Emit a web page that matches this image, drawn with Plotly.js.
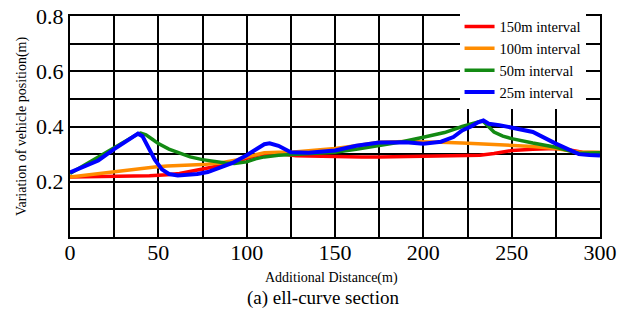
<!DOCTYPE html>
<html>
<head>
<meta charset="utf-8">
<script src="https://cdn.plot.ly/plotly-3.0.1.min.js"></script>
<style>
html,body{margin:0;padding:0;background:#fff;}
#chart{width:628px;height:325px;}
#chart text{font-family:'Liberation Serif','Times New Roman',serif !important;}
</style>
</head>
<body>
<div id="chart"></div>
<script>
// Series names
const seriesNames = ["150m interval", "100m interval", "50m interval", "25m interval"];

// 150m interval (red)
const dist150 = [0,15,30,45,55,62,70,78,86,95,100,106,112,120,128,140,150,165,175,190,200,212,225,232,240,250,262,275,283,290,300];
const val150  = [0.217,0.218,0.22,0.222,0.225,0.23,0.24,0.25,0.26,0.275,0.285,0.296,0.302,0.300,0.294,0.292,0.29,0.29,0.29,0.291,0.292,0.293,0.294,0.296,0.302,0.313,0.318,0.32,0.315,0.307,0.305];

// 100m interval (orange)
const dist100 = [0,10,20,30,40,48,55,65,75,85,95,100,105,110,118,125,135,150,162,175,190,200,210,222,235,250,262,275,288,300];
const val100  = [0.217,0.225,0.233,0.24,0.247,0.253,0.257,0.259,0.262,0.268,0.28,0.29,0.298,0.305,0.307,0.307,0.312,0.32,0.33,0.343,0.346,0.346,0.343,0.34,0.336,0.332,0.328,0.32,0.307,0.307];

// 50m interval (green)
const dist50 = [0,8,16,25,32,38,40,43,47,50,56,62,68,75,82,88,93,100,105,110,118,125,135,150,162,175,188,200,212,222,228,232,234,237,240,245,250,262,275,288,300];
const val50  = [0.23,0.26,0.29,0.325,0.35,0.372,0.376,0.37,0.352,0.338,0.318,0.303,0.29,0.28,0.273,0.268,0.266,0.272,0.283,0.29,0.296,0.298,0.3,0.307,0.318,0.331,0.345,0.361,0.378,0.40,0.41,0.418,0.418,0.40,0.38,0.365,0.356,0.34,0.325,0.303,0.305];

// 25m interval (blue)
const dist25 = [0,8,16,25,30,35,38.5,41,44,48,52,56,61,66,72,78,85,92,100,105,110,113,118,125,135,150,162,175,190,200,210,217,222,227,231,234,237,243,250,262,275,283,288,294,300];
const val25  = [0.234,0.255,0.277,0.318,0.338,0.358,0.374,0.365,0.325,0.28,0.245,0.228,0.223,0.224,0.228,0.235,0.25,0.268,0.296,0.318,0.336,0.339,0.330,0.307,0.305,0.313,0.330,0.342,0.343,0.338,0.345,0.362,0.386,0.400,0.415,0.422,0.41,0.405,0.397,0.38,0.338,0.315,0.300,0.297,0.295];

// Tick labels
const xTickVals = [0,25,50,75,100,125,150,175,200,225,250,275,300];
const xTickText = ["0","","50","","100","","150","","200","","250","","300"];
const yTickVals = [0,0.1,0.2,0.3,0.4,0.5,0.6,0.7,0.8];
const yTickText = ["","","0.2","","0.4","","0.6","","0.8"];

const colors = ["#ff0000", "#ff8c00", "#138a13", "#0000ff"];
const FAM = "Liberation Serif";

const xs = [dist150, dist100, dist50, dist25];
const ys = [val150, val100, val50, val25];

const traces = seriesNames.map((n, i) => ({
  x: xs[i], y: ys[i], name: n, type: "scatter", mode: "lines",
  line: {color: colors[i], width: i === 3 ? 4 : 3.5}
}));

const layout = {
  width: 628, height: 325,
  margin: {l: 70, r: 28, t: 15, b: 88},
  paper_bgcolor: "#fff", plot_bgcolor: "#fff",
  showlegend: true,
  legend: {
    x: 0.735, xanchor: "left", y: 1.02, yanchor: "top",
    bgcolor: "#fff", borderwidth: 0,
    font: {family: FAM, size: 14.5, color: "#000"},
    tracegroupgap: 0
  },
  xaxis: {
    range: [0, 300], tickmode: "array", tickvals: xTickVals, ticktext: xTickText,
    showgrid: true, gridcolor: "#000", gridwidth: 2,
    showline: true, linecolor: "#000", linewidth: 2, mirror: true,
    ticks: "", zeroline: false, ticklabelstandoff: -5,
    tickfont: {family: FAM, size: 22, color: "#000"}
  },
  yaxis: {
    range: [0, 0.8], tickmode: "array", tickvals: yTickVals, ticktext: yTickText,
    showgrid: true, gridcolor: "#000", gridwidth: 2,
    showline: true, linecolor: "#000", linewidth: 2, mirror: true,
    ticks: "", zeroline: false,
    tickfont: {family: FAM, size: 22, color: "#000"},
    title: {text: "Variation of vehicle position(m)", font: {family: FAM, size: 14, color: "#000"}, standoff: 6}
  },
  annotations: [{
    text: "Additional Distance(m)", xref: "paper", yref: "paper",
    x: (331 - 70) / 530, y: -(278 - 237) / 222, xanchor: "center", yanchor: "middle",
    showarrow: false, font: {family: FAM, size: 14, color: "#000"}
  }, {
    text: "(a) ell-curve section", xref: "paper", yref: "paper",
    x: (323 - 70) / 530, y: -(298 - 237) / 222, xanchor: "center", yanchor: "middle",
    showarrow: false, font: {family: FAM, size: 19, color: "#000"}
  }]
};

Plotly.newPlot("chart", traces, layout, {staticPlot: true});
</script>
</body>
</html>
